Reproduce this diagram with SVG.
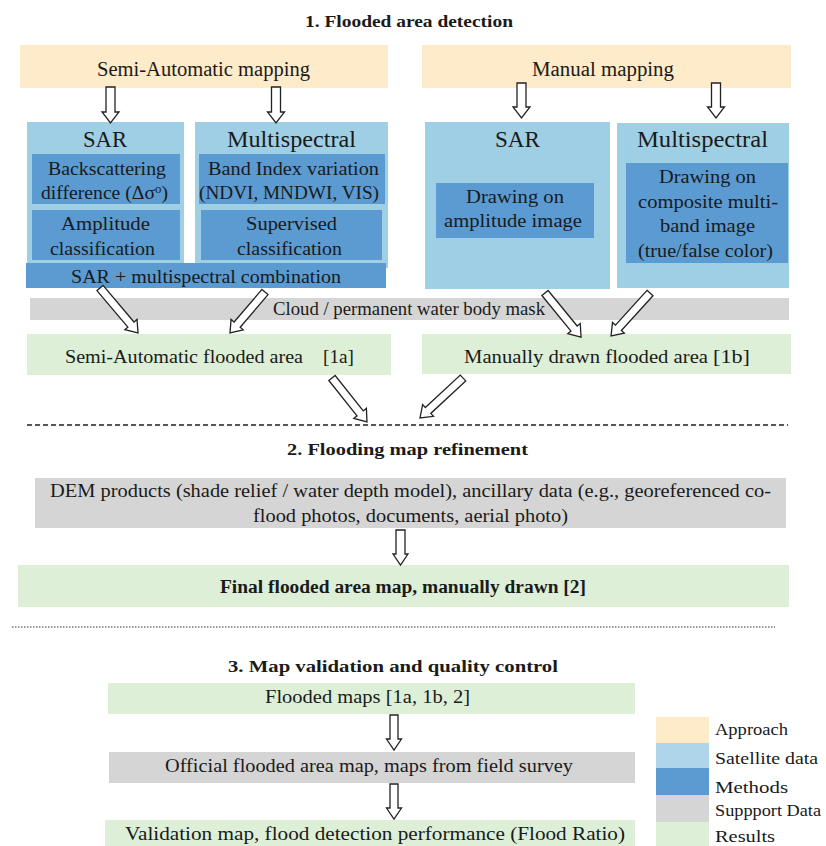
<svg xmlns="http://www.w3.org/2000/svg" width="826" height="846" viewBox="0 0 826 846" font-family="'Liberation Serif', 'Times New Roman', serif">
<style>
text, tspan {font-family:'Liberation Serif', 'Times New Roman', serif; fill:#1a1a1a;}
.h{font-weight:bold;font-size:17.5px;}
.t19{font-size:20px;}
.t21{font-size:23px;}
.t17{font-size:18.5px;}
.t18{font-size:18.5px;}
.lg{font-size:16px;}
.ap{fill:#FDEBC9;}
.sat{fill:#9FCFE4;}
.me{fill:#5B9BD1;}
.sup{fill:#D5D5D5;}
.res{fill:#DDEFD7;}
.arr{fill:#fff;stroke:#222;stroke-width:1.3;stroke-linejoin:miter;}
</style>
<rect width="826" height="846" fill="#fff"/>

<g id="title1"><text class="h" x="305" y="27" textLength="208" lengthAdjust="spacingAndGlyphs">1. Flooded area detection</text></g>

<g id="semi-auto"><rect class="ap" x="20" y="45" width="368" height="43"/>
<text class="t19" x="97" y="76" textLength="213" lengthAdjust="spacingAndGlyphs">Semi-Automatic mapping</text></g>
<g id="manual"><rect class="ap" x="422" y="45" width="369" height="43"/>
<text class="t19" x="532" y="76" textLength="142" lengthAdjust="spacingAndGlyphs">Manual mapping</text></g>

<g id="sar-auto"><rect class="sat" x="27" y="122" width="157" height="146"/>
<text class="t21" x="83" y="147" textLength="44" lengthAdjust="spacingAndGlyphs">SAR</text></g>
<g id="ms-auto"><rect class="sat" x="195" y="122" width="193" height="146"/>
<text class="t21" x="227" y="147" textLength="129" lengthAdjust="spacingAndGlyphs">Multispectral</text></g>

<g id="backscatter"><rect class="me" x="32" y="154" width="148" height="50"/>
<text class="t17" x="48" y="175" textLength="118" lengthAdjust="spacingAndGlyphs">Backscattering</text>
<text class="t17" x="41" y="199" textLength="127" lengthAdjust="spacingAndGlyphs">difference (Δσ<tspan dy="-6" font-size="12">o</tspan><tspan dy="6">)</tspan></text></g>
<g id="amplitude"><rect class="me" x="32" y="210" width="148" height="50"/>
<text class="t17" x="61" y="230" textLength="89" lengthAdjust="spacingAndGlyphs">Amplitude</text>
<text class="t17" x="50" y="255" textLength="105" lengthAdjust="spacingAndGlyphs">classification</text></g>
<g id="bandindex"><rect class="me" x="199" y="154" width="186" height="50"/>
<text class="t17" x="208" y="175" textLength="171" lengthAdjust="spacingAndGlyphs">Band Index variation</text>
<text class="t17" x="199" y="199" textLength="180" lengthAdjust="spacingAndGlyphs">(NDVI, MNDWI, VIS)</text></g>
<g id="supervised"><rect class="me" x="201" y="210" width="181" height="50"/>
<text class="t17" x="246" y="230" textLength="91" lengthAdjust="spacingAndGlyphs">Supervised</text>
<text class="t17" x="237" y="255" textLength="105" lengthAdjust="spacingAndGlyphs">classification</text></g>
<g id="combination"><rect class="me" x="26" y="263" width="360" height="25"/>
<text class="t17" x="71" y="283" textLength="270" lengthAdjust="spacingAndGlyphs">SAR + multispectral combination</text></g>

<g id="sar-manual"><rect class="sat" x="425" y="122" width="185" height="167"/>
<text class="t21" x="495" y="147" textLength="45" lengthAdjust="spacingAndGlyphs">SAR</text></g>
<g id="ms-manual"><rect class="sat" x="617" y="123" width="172" height="165"/>
<text class="t21" x="637" y="147" textLength="131" lengthAdjust="spacingAndGlyphs">Multispectral</text></g>
<g id="draw-amp"><rect class="me" x="436" y="183" width="158" height="55"/>
<text class="t17" x="466" y="203" textLength="98" lengthAdjust="spacingAndGlyphs">Drawing on</text>
<text class="t17" x="444" y="227" textLength="138" lengthAdjust="spacingAndGlyphs">amplitude image</text></g>
<g id="draw-comp"><rect class="me" x="626" y="163" width="162" height="100"/>
<text class="t17" x="659" y="183" textLength="97" lengthAdjust="spacingAndGlyphs">Drawing on</text>
<text class="t17" x="638" y="208" textLength="140" lengthAdjust="spacingAndGlyphs">composite multi-</text>
<text class="t17" x="660" y="232" textLength="95" lengthAdjust="spacingAndGlyphs">band image</text>
<text class="t17" x="638" y="257" textLength="135" lengthAdjust="spacingAndGlyphs">(true/false color)</text></g>

<g id="mask"><rect class="sup" x="30" y="298" width="759" height="22"/>
<text class="t17" x="273" y="315" textLength="272" lengthAdjust="spacingAndGlyphs">Cloud / permanent water body mask</text></g>

<g id="res1a"><rect class="res" x="27" y="334" width="364" height="41"/>
<text class="t17" x="65" y="363" textLength="238" lengthAdjust="spacingAndGlyphs">Semi-Automatic flooded area</text>
<text class="t17" x="323" y="363" textLength="31" lengthAdjust="spacingAndGlyphs">[1a]</text></g>
<g id="res1b"><rect class="res" x="422" y="334" width="369" height="40"/>
<text class="t17" x="464" y="363" textLength="244" lengthAdjust="spacingAndGlyphs">Manually drawn flooded area</text>
<text class="t17" x="713" y="363" textLength="37" lengthAdjust="spacingAndGlyphs">[1b]</text></g>

<line x1="27" y1="425" x2="788" y2="425" stroke="#222" stroke-width="1.5" stroke-dasharray="5 3"/>

<g id="title2"><text class="h" x="287" y="455" textLength="241" lengthAdjust="spacingAndGlyphs">2.  Flooding map refinement</text></g>
<g id="dem"><rect class="sup" x="35" y="478" width="751" height="50"/>
<text class="t18" x="50" y="497" textLength="721" lengthAdjust="spacingAndGlyphs">DEM products (shade relief / water depth model), ancillary data (e.g., georeferenced co-</text>
<text class="t18" x="253" y="522" textLength="315" lengthAdjust="spacingAndGlyphs">flood photos, documents, aerial photo)</text></g>
<g id="final"><rect class="res" x="18" y="565" width="771" height="42"/>
<text class="t18" font-weight="bold" x="220" y="593" textLength="366" lengthAdjust="spacingAndGlyphs">Final flooded area map, manually drawn [2]</text></g>

<line x1="12" y1="627" x2="775" y2="627" stroke="#333" stroke-width="1" stroke-dasharray="1.5 1.5"/>

<g id="title3"><text class="h" x="228" y="672" textLength="330" lengthAdjust="spacingAndGlyphs">3.  Map validation  and  quality control</text></g>
<g id="flooded-maps"><rect class="res" x="108" y="683" width="527" height="31"/>
<text class="t18" x="265" y="703" textLength="205" lengthAdjust="spacingAndGlyphs">Flooded  maps  [1a, 1b, 2]</text></g>
<g id="official"><rect class="sup" x="109" y="752" width="526" height="31"/>
<text class="t18" x="165" y="772" textLength="408" lengthAdjust="spacingAndGlyphs">Official flooded area map, maps from field survey</text></g>
<g id="validation"><rect class="res" x="105" y="820" width="530" height="26"/>
<text class="t18" x="125" y="840" textLength="500" lengthAdjust="spacingAndGlyphs">Validation map,  flood detection performance  (Flood Ratio)</text></g>

<g id="legend">
<rect class="ap" x="656" y="717" width="53" height="26"/>
<rect fill="#AED5EA" x="656" y="743" width="53" height="25"/>
<rect class="me" x="656" y="768" width="53" height="27"/>
<rect class="sup" x="656" y="795" width="53" height="27"/>
<rect class="res" x="656" y="822" width="53" height="24"/>
<text class="lg" x="715" y="735" textLength="73" lengthAdjust="spacingAndGlyphs">Approach</text>
<text class="lg" x="715" y="764" textLength="103" lengthAdjust="spacingAndGlyphs">Satellite data</text>
<text class="lg" x="715" y="793" textLength="73" lengthAdjust="spacingAndGlyphs">Methods</text>
<text class="lg" x="715" y="816" textLength="106" lengthAdjust="spacingAndGlyphs">Suppport Data</text>
<text class="lg" x="715" y="842" textLength="60" lengthAdjust="spacingAndGlyphs">Results</text>
</g>

<g id="connectors">
<path class="arr" transform="translate(110.5,87)" d="M-4.5,0H4.5V25H8.5L0,36L-8.5,25H-4.5Z"/>
<path class="arr" transform="translate(276,87)" d="M-4.5,0H4.5V25H8.5L0,36L-8.5,25H-4.5Z"/>
<path class="arr" transform="translate(521.5,83)" d="M-4.5,0H4.5V24H8.5L0,35L-8.5,24H-4.5Z"/>
<path class="arr" transform="translate(716,83)" d="M-4.5,0H4.5V24H8.5L0,35L-8.5,24H-4.5Z"/>
<path class="arr" transform="translate(100,288) rotate(-40.2)" d="M-4,0H4V47.9H8L0,58.9L-8,47.9H-4Z"/>
<path class="arr" transform="translate(265,292) rotate(40.5)" d="M-4,0H4V42.9H8L0,53.9L-8,42.9H-4Z"/>
<path class="arr" transform="translate(545,293) rotate(-39.3)" d="M-4,0H4V45.9H8L0,56.9L-8,45.9H-4Z"/>
<path class="arr" transform="translate(650,293) rotate(42.2)" d="M-4,0H4V47H8L0,58L-8,47H-4Z"/>
<path class="arr" transform="translate(332,378) rotate(-38.5)" d="M-4,0H4V45.2H8L0,56.2L-8,45.2H-4Z"/>
<path class="arr" transform="translate(463,378) rotate(47.1)" d="M-4,0H4V47.7H8L0,58.7L-8,47.7H-4Z"/>
<path class="arr" transform="translate(400.5,530)" d="M-4.5,0H4.5V24H7.5L0,35L-7.5,24H-4.5Z"/>
<path class="arr" transform="translate(394,715)" d="M-4,0H4V24H7.5L0,35L-7.5,24H-4Z"/>
<path class="arr" transform="translate(394,784)" d="M-4,0H4V24H7.5L0,35L-7.5,24H-4Z"/>
</g>
</svg>
